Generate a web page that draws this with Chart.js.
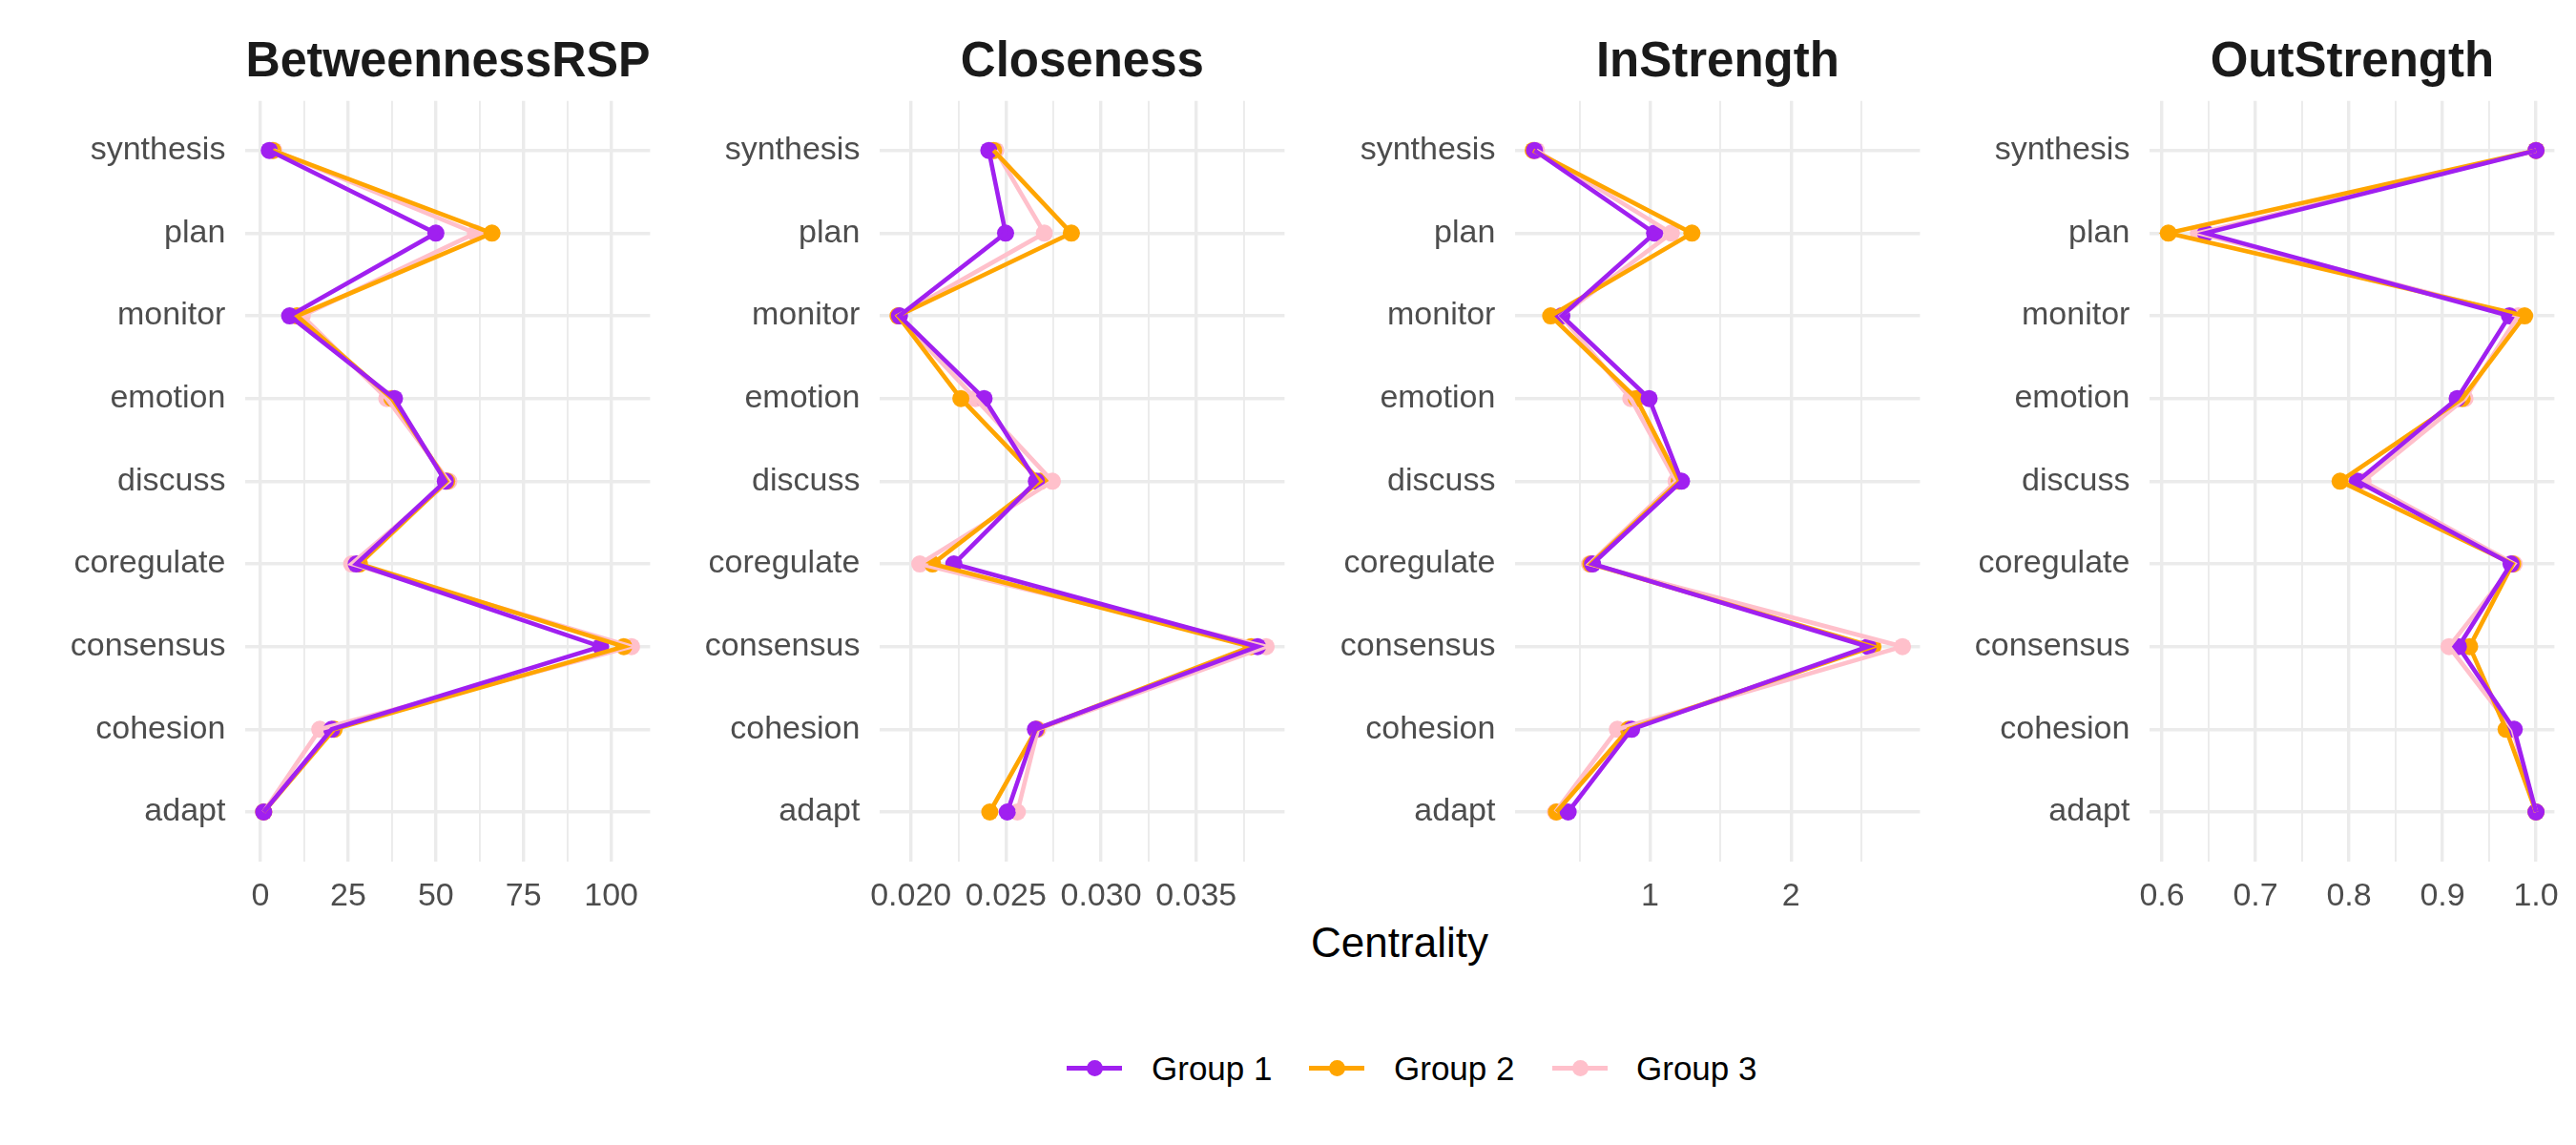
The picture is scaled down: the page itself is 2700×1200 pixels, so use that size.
<!DOCTYPE html>
<html>
<head>
<meta charset="utf-8">
<script src="https://cdn.jsdelivr.net/npm/chart.js@4.4.1/dist/chart.umd.min.js"></script>
<style>
  html, body { margin: 0; padding: 0; background: #ffffff; }
  body { width: 2700px; height: 1200px; position: relative; overflow: hidden; font-family: "Liberation Sans", Arial, sans-serif; }
  canvas.panel { position: absolute; top: 0; }
  #xtitle { position: absolute; left: 1467px; top: 966px; transform: translateX(-50%); font-size: 44px; line-height: 1; color: #000; white-space: nowrap; }
  .lkey { position: absolute; width: 58px; height: 4.5px; top: 1117px; }
  .ldot { position: absolute; width: 17px; height: 17px; border-radius: 50%; left: 20.5px; top: -6.25px; }
  .ltext { position: absolute; top: 1102px; font-size: 35px; line-height: 1; color: #000; white-space: nowrap; }
</style>
</head>
<body>
<script>
// ---------- data ----------
const categories = ["synthesis", "plan", "monitor", "emotion", "discuss", "coregulate", "consensus", "cohesion", "adapt"];
const panelTitles = ["BetweennessRSP", "Closeness", "InStrength", "OutStrength"];
const groupNames = ["Group 1", "Group 2", "Group 3"];
const groupColors = ["#A020F0", "#FFA500", "#FFC0CB"];

const betweennessG1 = [2.5, 50.0, 8.3, 38.2, 52.7, 27.3, 97.0, 20.3, 0.9];
const betweennessG2 = [3.5, 66.0, 10.4, 37.5, 53.1, 28.2, 103.6, 21.0, 0.9];
const betweennessG3 = [3.8, 61.3, 11.9, 36.0, 53.7, 26.0, 105.8, 16.9, 0.9];

const closenessG1 = [0.02410, 0.02498, 0.01940, 0.02385, 0.02660, 0.02226, 0.03823, 0.02655, 0.02507];
const closenessG2 = [0.02435, 0.02844, 0.01933, 0.02263, 0.02681, 0.02114, 0.03789, 0.02660, 0.02415];
const closenessG3 = [0.02446, 0.02702, 0.01933, 0.02339, 0.02744, 0.02047, 0.03868, 0.02668, 0.02560];

const inStrengthG1 = [0.180, 1.032, 0.374, 0.993, 1.223, 0.592, 2.547, 0.869, 0.419];
const inStrengthG2 = [0.171, 1.297, 0.295, 0.903, 1.207, 0.580, 2.581, 0.847, 0.336];
const inStrengthG3 = [0.194, 1.151, 0.369, 0.863, 1.185, 0.570, 2.791, 0.768, 0.329];

const outStrengthG1 = [1.000, 0.6467, 0.9716, 0.9157, 0.809, 0.9733, 0.917, 0.9767, 1.000];
const outStrengthG2 = [1.000, 0.6068, 0.9878, 0.921, 0.7905, 0.975, 0.929, 0.968, 1.000];
const outStrengthG3 = [1.000, 0.639, 0.981, 0.924, 0.815, 0.9767, 0.907, 0.975, 1.000];

// ---------- axis ticks ----------
const betweennessMajor = [0, 25, 50, 75, 100];
const betweennessMinor = [12.5, 37.5, 62.5, 87.5];
const betweennessLabels = ["0", "25", "50", "75", "100"];
const betweennessRange = [-4.26, 111.1];

const closenessMajor = [0.020, 0.025, 0.030, 0.035];
const closenessMinor = [0.0225, 0.0275, 0.0325, 0.0375];
const closenessLabels = ["0.020", "0.025", "0.030", "0.035"];
const closenessRange = [0.01838, 0.03965];

const inStrengthMajor = [1, 2];
const inStrengthMinor = [0.5, 1.5, 2.5];
const inStrengthLabels = ["1", "2"];
const inStrengthRange = [0.045, 2.915];

const outStrengthMajor = [0.6, 0.7, 0.8, 0.9, 1.0];
const outStrengthMinor = [0.65, 0.75, 0.85, 0.95];
const outStrengthLabels = ["0.6", "0.7", "0.8", "0.9", "1.0"];
const outStrengthRange = [0.5871, 1.0197];

const panels = [
  { title: panelTitles[0], series: [betweennessG1, betweennessG2, betweennessG3], major: betweennessMajor, minor: betweennessMinor, labels: betweennessLabels, range: betweennessRange },
  { title: panelTitles[1], series: [closenessG1, closenessG2, closenessG3], major: closenessMajor, minor: closenessMinor, labels: closenessLabels, range: closenessRange },
  { title: panelTitles[2], series: [inStrengthG1, inStrengthG2, inStrengthG3], major: inStrengthMajor, minor: inStrengthMinor, labels: inStrengthLabels, range: inStrengthRange },
  { title: panelTitles[3], series: [outStrengthG1, outStrengthG2, outStrengthG3], major: outStrengthMajor, minor: outStrengthMinor, labels: outStrengthLabels, range: outStrengthRange }
];

// ---------- layout ----------
const PANEL_STEP = 665.3;
const CANVAS_W = 700;
const CANVAS_H = 960;
const YAXIS_W = 257.4;
const PLOT_W = 424;
const PLOT_BOTTOM = 903;
const GRID = "#EBEBEB";
const FONT = "'Liberation Sans', Arial, sans-serif";

panels.forEach((p, pi) => {
  const cv = document.createElement("canvas");
  cv.className = "panel";
  cv.width = CANVAS_W;
  cv.height = CANVAS_H;
  cv.style.width = CANVAS_W + "px";
  cv.style.height = CANVAS_H + "px";
  cv.style.left = (PANEL_STEP * pi) + "px";
  document.body.appendChild(cv);

  const lineSets = p.series.map((vals, gi) => ({
    label: groupNames[gi],
    data: vals.map((v, i) => ({ x: v, y: i })),
    borderColor: groupColors[gi],
    backgroundColor: groupColors[gi],
    borderWidth: 4.6,
    tension: 0,
    pointRadius: 0,
    pointHoverRadius: 0,
    fill: false
  }));
  const pointSets = p.series.map((vals, gi) => ({
    label: groupNames[gi] + " points",
    data: vals.map((v, i) => ({ x: v, y: i })),
    showLine: false,
    borderColor: groupColors[gi],
    backgroundColor: groupColors[gi],
    pointBackgroundColor: groupColors[gi],
    pointBorderWidth: 0,
    pointRadius: 9,
    pointHoverRadius: 9
  }));

  const xTicks = p.major.concat(p.minor);
  const nMajor = p.major.length;

  new Chart(cv, {
    type: "line",
    data: { datasets: lineSets.concat(pointSets) },
    options: {
      responsive: false,
      animation: false,
      indexAxis: "y",
      devicePixelRatio: 1,
      layout: { padding: { left: 0, right: CANVAS_W - YAXIS_W - PLOT_W, top: 0, bottom: 0 } },
      plugins: {
        legend: { display: false },
        tooltip: { enabled: false },
        title: {
          display: true,
          text: p.title,
          fullSize: false,
          color: "#1A1A1A",
          font: { family: FONT, size: 51, weight: "bold", lineHeight: 1.2 },
          padding: { top: 35, bottom: 9.5 }
        }
      },
      scales: {
        x: {
          type: "linear",
          position: "bottom",
          min: p.range[0],
          max: p.range[1],
          afterBuildTicks: (axis) => { axis.ticks = xTicks.map(v => ({ value: v })); },
          afterFit: (axis) => { axis.height = CANVAS_H - PLOT_BOTTOM; },
          border: { display: false },
          grid: {
            color: GRID,
            lineWidth: (ctx) => (ctx.index < nMajor ? 3.4 : 1.9),
            drawTicks: false
          },
          ticks: {
            autoSkip: false,
            maxRotation: 0,
            padding: 16,
            color: "#4D4D4D",
            font: { family: FONT, size: 34 },
            callback: (value, index) => (index < nMajor ? p.labels[index] : "")
          }
        },
        y: {
          type: "linear",
          position: "left",
          reverse: true,
          min: -0.6,
          max: categories.length - 1 + 0.6,
          afterBuildTicks: (axis) => { axis.ticks = categories.map((c, i) => ({ value: i })); },
          afterFit: (axis) => { axis.width = YAXIS_W; },
          border: { display: false },
          grid: { color: GRID, lineWidth: 3.4, drawTicks: false },
          ticks: {
            autoSkip: false,
            padding: 21,
            color: "#4D4D4D",
            font: { family: FONT, size: 34 },
            callback: (value) => categories[Math.round(value)]
          }
        }
      }
    }
  });
});

// ---------- shared x title ----------
const xt = document.createElement("div");
xt.id = "xtitle";
xt.textContent = "Centrality";
document.body.appendChild(xt);

// ---------- legend ----------
const legendKeyLeft = [1118, 1372, 1627];
const legendTextLeft = [1207, 1461, 1715];
groupNames.forEach((g, gi) => {
  const k = document.createElement("div");
  k.className = "lkey";
  k.style.left = legendKeyLeft[gi] + "px";
  k.style.background = groupColors[gi];
  const d = document.createElement("div");
  d.className = "ldot";
  d.style.background = groupColors[gi];
  k.appendChild(d);
  document.body.appendChild(k);
  const t = document.createElement("div");
  t.className = "ltext";
  t.style.left = legendTextLeft[gi] + "px";
  t.textContent = g;
  document.body.appendChild(t);
});
</script>
</body>
</html>
